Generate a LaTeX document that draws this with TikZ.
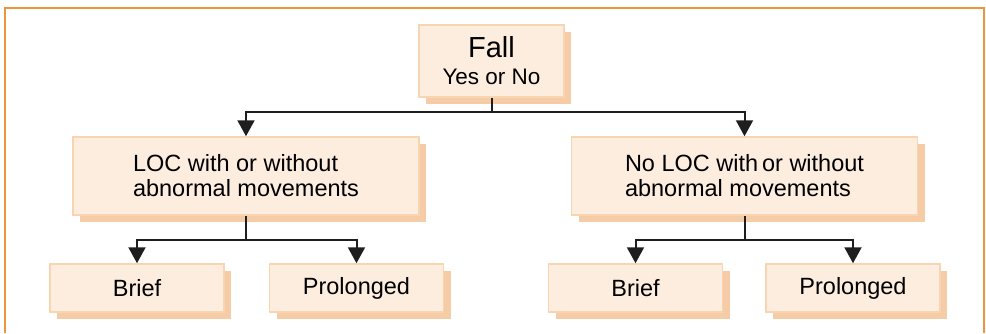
\documentclass[tikz,border=0pt]{standalone}
\usepackage{fontspec}
\setmainfont{Liberation Sans}
\usetikzlibrary{arrows.meta, positioning, shadows}

\definecolor{boxfill}{RGB}{252,237,223}
\definecolor{boxline}{RGB}{247,212,178}
\definecolor{boxshade}{RGB}{246,204,166}
\definecolor{framecol}{RGB}{238,148,60}
\definecolor{linecol}{RGB}{30,30,30}

\begin{document}
\begin{tikzpicture}[x=1pt,y=-1pt,
    box/.style={draw=boxline,line width=1.5pt,fill=boxfill,inner sep=0pt,
      drop shadow={shadow xshift=7pt,shadow yshift=-7pt,fill=boxshade,opacity=1}},
    midbox/.style={box,minimum width=346pt,minimum height=78pt,align=left,
      font=\fontsize{23.5}{25}\selectfont},
    leafbox/.style={box,minimum width=174pt,minimum height=48pt,
      font=\fontsize{23.5}{25}\selectfont},
    wire/.style={draw=linecol,line width=2pt},
    link/.style={wire,-{Triangle[width=17pt,length=16pt]}}]
    \useasboundingbox (0,0) rectangle (986,333);
    \draw[framecol,line width=1.5pt] (5,333) -- (5,8) -- (984,8) -- (984,333);

    \node[box,minimum width=145pt,minimum height=72pt,align=center,
      font=\fontsize{29}{28}\selectfont] (fall) at (491.5,61)
      {Fall\\[-1pt]{\fontsize{22.5}{24}\selectfont Yes or No}};
    \node[midbox] (loc) at (246,176) {LOC with or without\\abnormal movements};
    \node[midbox] (noloc) at (744.5,176) {No LOC with\,or without\\abnormal movements};
    \node[leafbox] (brief1) at (137,288) {Brief};
    \node[leafbox] (prolonged1) [right=44pt of brief1] {Prolonged};
    \node[leafbox] (brief2) at (635.5,288) {Brief};
    \node[leafbox] (prolonged2) [right=42pt of brief2] {Prolonged};

    \coordinate (fj) at ([yshift=-14pt]fall.south);
    \coordinate (lj) at ([yshift=-24pt]loc.south);
    \coordinate (nj) at ([yshift=-24pt]noloc.south);
    \draw[wire] (fall.south) -- (fj);
    \draw[link] (fj) -| (loc.north);
    \draw[link] (fj) -| (noloc.north);
    \draw[wire] (loc.south) -- (lj);
    \draw[link] (lj) -| (brief1.north);
    \draw[link] (lj) -| (prolonged1.north);
    \draw[wire] (noloc.south) -- (nj);
    \draw[link] (nj) -| (brief2.north);
    \draw[link] (nj) -| (prolonged2.north);
\end{tikzpicture}
\end{document}
